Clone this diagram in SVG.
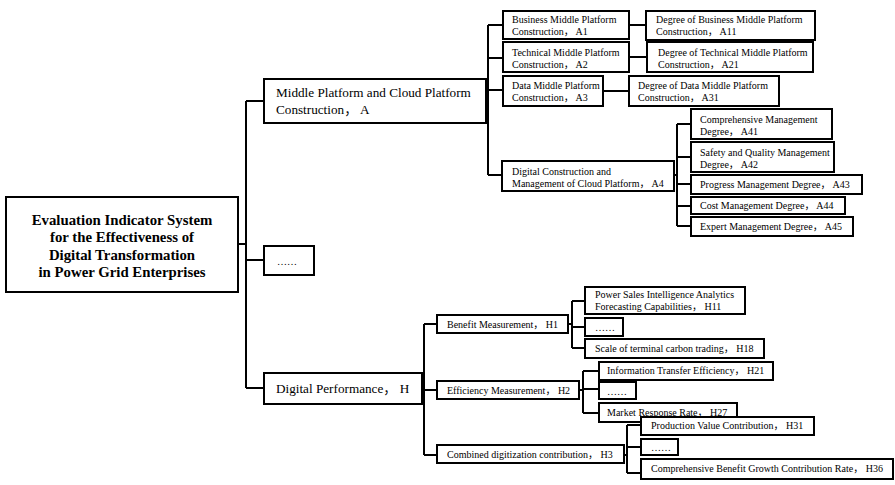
<svg xmlns="http://www.w3.org/2000/svg" width="895" height="485" viewBox="0 0 895 485" font-family="'Liberation Serif','Times New Roman','Noto Sans CJK SC',serif">
<style>
rect.b{fill:#fff;stroke:#000;stroke-width:2}
.c path{fill:none;stroke:#000;stroke-width:2}
text{fill:#000}
.s{font-size:10px}
.m{font-size:13.2px}
.r{font-size:14.8px;font-weight:bold;text-anchor:middle}
</style>
<rect width="895" height="485" fill="#fff"/>
<g class="c" id="connectors">
<path d="M238,244H246M246,101V388M246,101H264M246,260H264M246,388H264"/>
<path d="M486,101H488M488,25V175M488,25H503M488,58H503M488,90H503M488,175H502"/>
<path d="M629,25H646M629,57H647M603,91H629"/>
<path d="M674,175H677M677,124V226M677,124H691M677,157H691M677,184H691M677,206H691M677,226H691"/>
<path d="M422,388H424M424,324V455M424,324H437M424,390H437M424,455H437"/>
<path d="M568,324H572M572,301V348M572,301H585M572,327H585M572,348H585"/>
<path d="M579,390H583M583,371V413M583,371H599M583,389H599M583,413H599"/>
<path d="M624,455H627M627,425V473M627,425H641M627,447H641M627,473H641"/>
</g>
<g id="root"><rect class="b" x="6" y="197" width="232" height="95"/>
<text class="r" x="122" y="225">Evaluation Indicator System</text>
<text class="r" x="122" y="242">for the Effectiveness of</text>
<text class="r" x="122" y="260">Digital Transformation</text>
<text class="r" x="122" y="277">in Power Grid Enterprises</text></g>
<g id="A"><rect class="b" x="264" y="79" width="222" height="44"/>
<text class="m" x="276" y="97">Middle Platform and Cloud Platform</text>
<text class="m" x="276" y="114">Construction， A</text></g>
<g id="etc"><rect class="b" x="264" y="246" width="50" height="29"/>
<text class="s" x="277" y="265">……</text></g>
<g id="H"><rect class="b" x="264" y="373" width="158" height="31"/>
<text class="m" x="276" y="393">Digital Performance， H</text></g>
<g id="A1"><rect class="b" x="503" y="11" width="126" height="28"/>
<text class="s" x="512" y="23">Business Middle Platform</text>
<text class="s" x="512" y="35">Construction， A1</text></g>
<g id="A11"><rect class="b" x="646" y="11" width="169" height="29"/>
<text class="s" x="656" y="23">Degree of Business Middle Platform</text>
<text class="s" x="656" y="35">Construction， A11</text></g>
<g id="A2"><rect class="b" x="503" y="42" width="126" height="30"/>
<text class="s" x="512" y="56">Technical Middle Platform</text>
<text class="s" x="512" y="68">Construction， A2</text></g>
<g id="A21"><rect class="b" x="647" y="42" width="166" height="30"/>
<text class="s" x="658" y="56">Degree of Technical Middle Platform</text>
<text class="s" x="658" y="68">Construction， A21</text></g>
<g id="A3"><rect class="b" x="503" y="76" width="100" height="30"/>
<text class="s" x="512" y="89">Data Middle Platform</text>
<text class="s" x="512" y="101">Construction， A3</text></g>
<g id="A31"><rect class="b" x="629" y="76" width="150" height="30"/>
<text class="s" x="638" y="89">Degree of Data Middle Platform</text>
<text class="s" x="638" y="101">Construction， A31</text></g>
<g id="A4"><rect class="b" x="502" y="161" width="172" height="30"/>
<text class="s" x="512" y="175">Digital Construction and</text>
<text class="s" x="512" y="187">Management of Cloud Platform， A4</text></g>
<g id="A41"><rect class="b" x="691" y="109" width="141" height="30"/>
<text class="s" x="700" y="123">Comprehensive Management</text>
<text class="s" x="700" y="135">Degree， A41</text></g>
<g id="A42"><rect class="b" x="691" y="142" width="143" height="30"/>
<text class="s" x="700" y="156">Safety and Quality Management</text>
<text class="s" x="700" y="168">Degree， A42</text></g>
<g id="A43"><rect class="b" x="691" y="175" width="171" height="19"/>
<text class="s" x="700" y="188">Progress Management Degree， A43</text></g>
<g id="A44"><rect class="b" x="691" y="197" width="154" height="17"/>
<text class="s" x="700" y="209">Cost Management Degree， A44</text></g>
<g id="A45"><rect class="b" x="691" y="217" width="162" height="19"/>
<text class="s" x="700" y="230">Expert Management Degree， A45</text></g>
<g id="H1"><rect class="b" x="437" y="315" width="131" height="18"/>
<text class="s" x="447" y="328">Benefit Measurement， H1</text></g>
<g id="H2"><rect class="b" x="437" y="381" width="142" height="18"/>
<text class="s" x="447" y="394">Efficiency Measurement， H2</text></g>
<g id="H3"><rect class="b" x="437" y="445" width="187" height="18"/>
<text class="s" x="447" y="458">Combined digitization contribution， H3</text></g>
<g id="H11"><rect class="b" x="585" y="287" width="160" height="27"/>
<text class="s" x="595" y="298">Power Sales Intelligence Analytics</text>
<text class="s" x="595" y="310">Forecasting Capabilities， H11</text></g>
<g id="H1x"><rect class="b" x="585" y="318" width="38" height="18"/>
<text class="s" x="595" y="331">……</text></g>
<g id="H18"><rect class="b" x="585" y="339" width="179" height="19"/>
<text class="s" x="595" y="352">Scale of terminal carbon trading， H18</text></g>
<g id="H21"><rect class="b" x="599" y="362" width="174" height="18"/>
<text class="s" x="607" y="374">Information Transfer Efficiency， H21</text></g>
<g id="H2x"><rect class="b" x="599" y="382" width="37" height="17"/>
<text class="s" x="607" y="395">……</text></g>
<g id="H27"><rect class="b" x="599" y="403" width="138" height="19"/>
<text class="s" x="607" y="416">Market Response Rate， H27</text></g>
<g id="H31"><rect class="b" x="641" y="417" width="173" height="18"/>
<text class="s" x="651" y="429">Production Value Contribution， H31</text></g>
<g id="H3x"><rect class="b" x="641" y="439" width="37" height="16"/>
<text class="s" x="651" y="451">……</text></g>
<g id="H36"><rect class="b" x="641" y="459" width="252" height="20"/>
<text class="s" x="651" y="472">Comprehensive Benefit Growth Contribution Rate， H36</text></g>
</svg>
